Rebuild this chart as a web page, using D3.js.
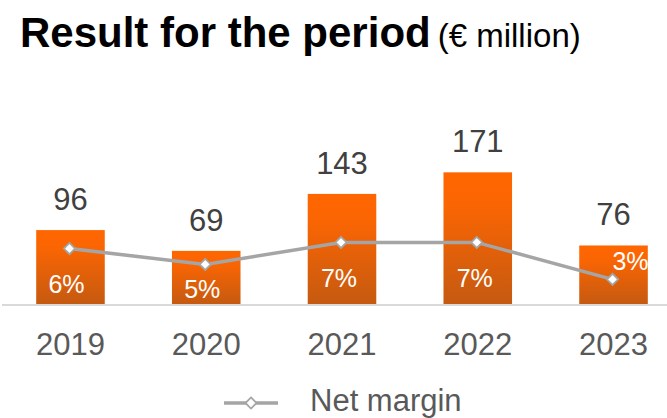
<!DOCTYPE html>
<html><head><meta charset="utf-8">
<script src="https://cdn.jsdelivr.net/npm/d3@7"></script>
<style>
html,body{margin:0;padding:0;background:#fff;}
svg{display:block;font-family:"Liberation Sans",Arial,sans-serif;}
</style></head>
<body>
<svg id="chart" width="667" height="418"></svg>
<script>
const years = ["2019","2020","2021","2022","2023"];
const results = [96, 69, 143, 171, 76];
const netMargin = [6.3, 4.5, 7.0, 7.0, 2.8];
const marginLabels = ["6%","5%","7%","7%","3%"];
const titleText = "Result for the period";
const unitText = "(€ million)";
const legendText = "Net margin";
// label placement offsets relative to the line point (layout only)
const marginLabelOffset = [[-3,44],[-3,34],[-2,45],[-2,45],[18,-9]];

const svg = d3.select("#chart");
const baseY = 304, topY = 150;
const x = d3.scaleBand().domain(years).range([2.6, 681.4]).paddingInner(0.495).paddingOuter(0.2475);
const y = d3.scaleLinear().domain([0, 200]).range([baseY, topY]);
const y2 = d3.scaleLinear().domain([0, 17.5]).range([baseY, topY]);

const defs = svg.append("defs");
const grad = defs.append("linearGradient").attr("id","barGrad").attr("x1",0).attr("y1",0).attr("x2",0).attr("y2",1);
grad.append("stop").attr("offset","0%").attr("stop-color","#FF6600");
grad.append("stop").attr("offset","25%").attr("stop-color","#FA6503");
grad.append("stop").attr("offset","100%").attr("stop-color","#C55A11");

// title
const t = svg.append("text").attr("x",20).attr("y",47);
t.append("tspan").attr("font-weight","bold").attr("font-size",42).attr("fill","#000").text(titleText);
t.append("tspan").attr("font-size",33).attr("fill","#000").attr("dx",7).text(unitText);

// axis baseline
svg.append("line").attr("x1",2).attr("x2",667).attr("y1",baseY+1).attr("y2",baseY+1)
  .attr("stroke","#D9D9D9").attr("stroke-width",2);

// bars
svg.selectAll("rect.bar").data(years).join("rect").attr("class","bar")
  .attr("x", d=>x(d)).attr("width", x.bandwidth())
  .attr("y", (d,i)=>y(results[i])).attr("height",(d,i)=>baseY - y(results[i]))
  .attr("fill","url(#barGrad)");

// value labels
svg.selectAll("text.val").data(years).join("text").attr("class","val")
  .attr("x", d=>x(d)+x.bandwidth()/2).attr("y",(d,i)=>y(results[i]) - 20)
  .attr("text-anchor","middle").attr("font-size",31).attr("fill","#404040")
  .text((d,i)=>results[i]);

// x axis labels
const xAxis = d3.axisBottom(x).tickSize(0).tickPadding(0);
const gx = svg.append("g").attr("transform",`translate(0,${baseY})`).call(xAxis);
gx.select(".domain").remove();
gx.selectAll("text").attr("font-size",31).attr("fill","#595959").attr("font-family","Liberation Sans, Arial, sans-serif")
  .attr("dy",null).attr("y",51);

// line
const cx = d=>x(d)+x.bandwidth()/2 - 1;
const line = d3.line().x((d,i)=>cx(years[i])).y(d=>y2(d));
svg.append("path").datum(netMargin).attr("d",line).attr("fill","none")
  .attr("stroke","#A5A5A5").attr("stroke-width",3.5);
const diamond = d3.symbol().type(d3.symbolDiamond2).size(80);
svg.selectAll("path.mk").data(netMargin).join("path").attr("class","mk")
  .attr("d",diamond).attr("transform",(d,i)=>`translate(${cx(years[i])},${y2(d)})`)
  .attr("fill","#fff").attr("stroke","#A5A5A5").attr("stroke-width",1.8);

// margin labels
svg.selectAll("text.pct").data(netMargin).join("text").attr("class","pct")
  .attr("x",(d,i)=>cx(years[i]) + marginLabelOffset[i][0])
  .attr("y",(d,i)=>y2(d) + marginLabelOffset[i][1])
  .attr("text-anchor","middle").attr("font-size",25).attr("fill","#fff")
  .text((d,i)=>marginLabels[i]);

// legend
const lg = svg.append("g").attr("transform","translate(224,403)");
lg.append("line").attr("x1",0).attr("x2",54).attr("y1",0).attr("y2",0).attr("stroke","#A5A5A5").attr("stroke-width",3.5);
lg.append("path").attr("d",diamond).attr("transform","translate(27,0)").attr("fill","#fff").attr("stroke","#A5A5A5").attr("stroke-width",1.8);
lg.append("text").attr("x",86).attr("y",8).attr("font-size",31).attr("fill","#595959").text(legendText);
</script>
</body></html>
